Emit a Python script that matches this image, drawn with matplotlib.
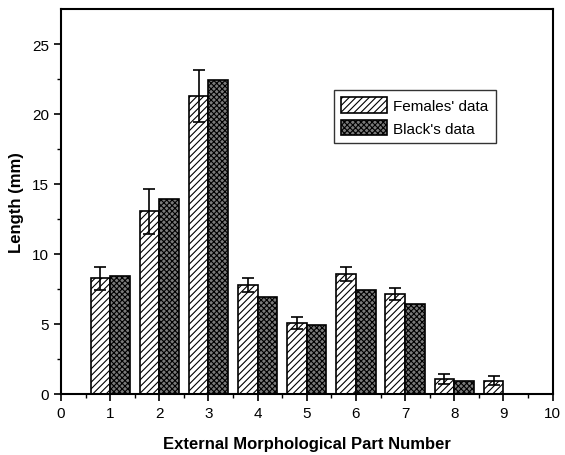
import matplotlib
matplotlib.use('Agg')
import matplotlib.pyplot as plt
import numpy as np

plt.rcParams['font.family'] = ['Liberation Sans', 'DejaVu Sans']
plt.rcParams['hatch.linewidth'] = 0.8

parts = [1, 2, 3, 4, 5, 6, 7, 8, 9]
females = [8.25, 13.05, 21.3, 7.8, 5.07, 8.55, 7.15, 1.05, 0.95]
females_err = [0.85, 1.6, 1.85, 0.5, 0.4, 0.5, 0.42, 0.37, 0.3]
black_parts = [1, 2, 3, 4, 5, 6, 7, 8]
black = [8.45, 13.9, 22.45, 6.95, 4.93, 7.43, 6.43, 0.93]

fig = plt.figure(figsize=(5.65, 4.56), dpi=100)
ax = fig.add_axes([0.108, 0.134, 0.87, 0.844])

w = 0.4
ax.bar(np.array(parts) - w, females, width=w, align='edge', facecolor='white',
       edgecolor='black', hatch='/////', linewidth=1.2, label="Females' data")
ax.bar(black_parts, black, width=w, align='edge', facecolor='#7a7a7a',
       edgecolor='black', hatch='xxxxxx', linewidth=1.2, label="Black's data")
ax.errorbar(np.array(parts) - w / 2, females, yerr=females_err, fmt='none',
            ecolor='black', elinewidth=1.2, capsize=4, capthick=1.2)

ax.set_xlim(0, 10)
ax.set_ylim(0, 27.5)
ax.set_xticks(range(0, 11))
ax.set_xticks(np.arange(0.5, 10, 1), minor=True)
ax.set_yticks([0, 5, 10, 15, 20, 25])
ax.set_yticks(np.arange(2.5, 27.5, 5), minor=True)
ax.tick_params(which='major', direction='out', length=5, width=1.2, labelsize=11)
ax.tick_params(which='minor', direction='out', length=3, width=1.0)
for s in ax.spines.values():
    s.set_linewidth(1.5)

ax.set_xlabel('External Morphological Part Number', fontsize=12, fontweight='bold', labelpad=12)
ax.set_ylabel('Length (mm)', fontsize=12, fontweight='bold', labelpad=6)

leg = ax.legend(loc='upper left', bbox_to_anchor=(0.555, 0.79), fontsize=11,
                frameon=True, fancybox=False, edgecolor='black',
                handlelength=3.0, handleheight=1.2, handletextpad=0.4,
                borderpad=0.5, labelspacing=0.4, borderaxespad=0)
leg.get_frame().set_linewidth(1.0)

fig.savefig('out.png', dpi=100)
